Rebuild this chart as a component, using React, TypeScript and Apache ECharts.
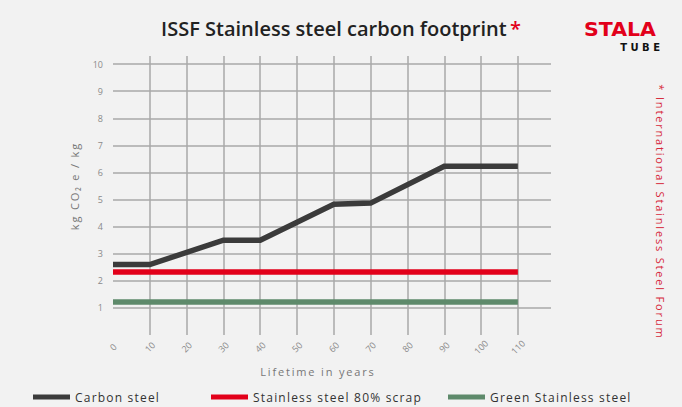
import React, { useEffect, useRef } from "react";
import * as echarts from "echarts";

const carbonX = [0, 10, 30, 40, 60, 70, 90, 110];
const carbonY = [2.6, 2.6, 3.5, 3.5, 4.83, 4.87, 6.23, 6.23];
const scrapX = [0, 110];
const scrapY = [2.33, 2.33];
const greenX = [0, 110];
const greenY = [1.22, 1.22];
const seriesNames = ["Carbon steel", "Stainless steel 80% scrap", "Green Stainless steel"];
const seriesColors = ["#3b3b3b", "#e2001a", "#5e8a6b"];
const titleText = "ISSF Stainless steel carbon footprint";
const footnote = "* International Stainless Steel Forum";
const xName = "Lifetime in years";
const yName = "kg CO₂ e / kg";

const sp = (s: string, sep: string) => s.split("").join(sep);

export default function App() {
  const ref = useRef<HTMLDivElement>(null);
  useEffect(() => {
    if (!ref.current) return;
    const chart = echarts.init(ref.current, undefined, { renderer: "svg" });
    const font = "'Open Sans', sans-serif";
    const mk = (xs: number[], ys: number[]) => xs.map((x, i) => [x, ys[i]]);
    const datas = [mk(carbonX, carbonY), mk(scrapX, scrapY), mk(greenX, greenY)];
    const legendLefts = [28, 206, 443];
    chart.setOption({
      animation: false,
      backgroundColor: "#f2f2f2",
      grid: { left: 113, right: 131, top: 56, bottom: 72 },
      xAxis: {
        type: "value",
        min: 0,
        max: 119,
        interval: 10,
        axisLine: { show: false },
        axisTick: { show: false },
        splitLine: {
          show: true,
          showMinLine: false,
          showMaxLine: false,
          lineStyle: { color: "#a9a9a9", width: 1.5 },
        },
        axisLabel: {
          rotate: 45,
          align: "center",
          verticalAlign: "middle",
          margin: 12,
          color: "#8a8a8a",
          fontSize: 9,
          fontFamily: font,
          formatter: (v: number) => (v > 110 ? "" : String(v)),
        },
      },
      yAxis: {
        type: "value",
        min: 0,
        max: 10.3,
        interval: 1,
        axisLine: { show: false },
        axisTick: { show: false },
        splitLine: {
          show: true,
          showMinLine: false,
          showMaxLine: false,
          lineStyle: { color: "#a9a9a9", width: 1.5 },
        },
        axisLabel: {
          margin: 10,
          color: "#8a8a8a",
          fontSize: 9,
          fontFamily: font,
          formatter: (v: number) => (v > 10 || v === 0 ? "" : String(v)),
        },
      },
      legend: seriesNames.map((n, i) => ({
        data: [n],
        left: legendLefts[i],
        top: 386,
        icon: "rect",
        itemWidth: 37,
        itemHeight: 5,
        itemGap: 6,
        formatter: (s: string) => sp(s, "\u200a"),
        textStyle: { color: "#333", fontSize: 12, fontFamily: font, padding: [0, 0, 0, 0] },
      })),
      series: seriesNames.map((n, i) => ({
        name: n,
        type: "line",
        showSymbol: false,
        symbol: "none",
        color: seriesColors[i],
        lineStyle: { width: 5.5, color: seriesColors[i], cap: "butt", join: "miter" },
        data: datas[i],
        z: 3 - i,
      })),
      graphic: [
        {
          type: "text",
          left: "center",
          top: 18,
          style: {
            text: "{t|" + titleText + "} {r|*}",
            rich: {
              t: { fontSize: 20, fontWeight: 600, fontFamily: font, fill: "#222" },
              r: { fontSize: 20, fontWeight: 600, fontFamily: font, fill: "#e2001a" },
            },
          },
        },
        {
          type: "text",
          x: 584,
          y: 20,
          scaleX: 1.08,
          style: {
            text: "STALA",
            fontSize: 19,
            fontWeight: 900,
            fontFamily: "'DejaVu Sans', sans-serif",
            fill: "#e2001a",
          },
        },
        {
          type: "text",
          x: 660,
          y: 42,
          style: {
            text: sp("TUBE", " "),
            align: "right",
            fontSize: 10,
            fontWeight: 700,
            fontFamily: "'DejaVu Sans', sans-serif",
            fill: "#111",
          },
        },
        {
          type: "text",
          x: 660,
          y: 211,
          rotation: -Math.PI / 2,
          style: {
            text: sp(footnote, "\u2009"),
            align: "center",
            verticalAlign: "middle",
            fontSize: 11,
            fontFamily: font,
            fill: "#d6283a",
          },
        },
        {
          type: "text",
          x: 317,
          y: 371,
          style: {
            text: sp(xName, "\u2009"),
            align: "center",
            verticalAlign: "middle",
            fontSize: 11,
            fontFamily: font,
            fill: "#777",
          },
        },
        {
          type: "text",
          x: 74,
          y: 187,
          rotation: Math.PI / 2,
          style: {
            text: sp(yName, "\u2009"),
            align: "center",
            verticalAlign: "middle",
            fontSize: 11,
            fontFamily: font,
            fill: "#777",
          },
        },
      ],
    });
    return () => chart.dispose();
  }, []);
  return (
    <div
      ref={ref}
      style={{ position: "fixed", left: 0, top: 0, width: 682, height: 407 }}
    />
  );
}
